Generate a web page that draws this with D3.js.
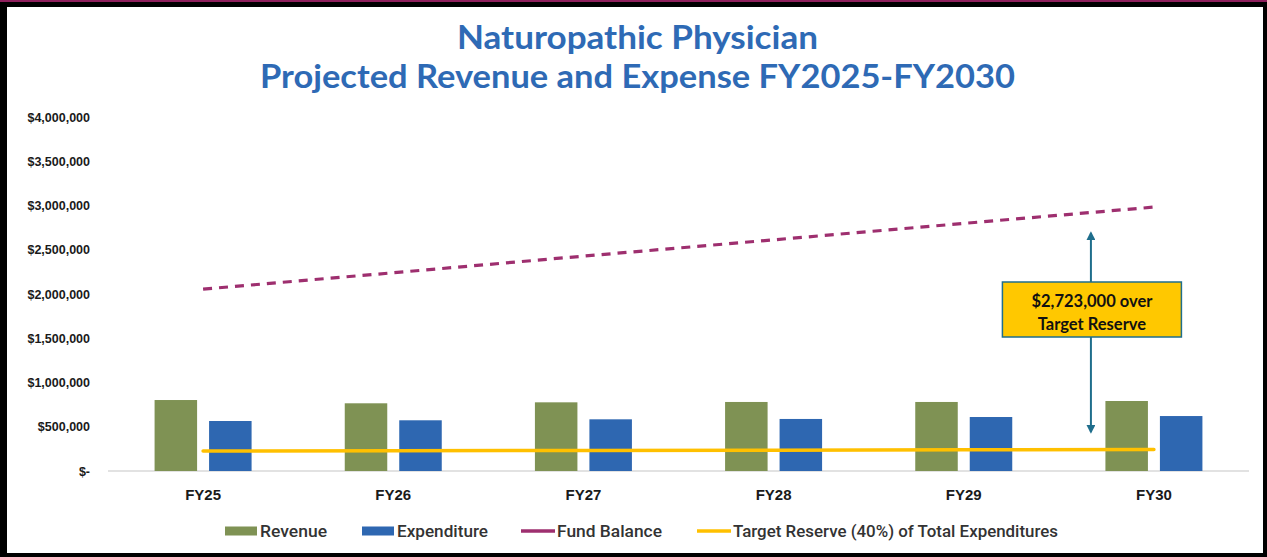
<!DOCTYPE html>
<html>
<head>
<meta charset="utf-8">
<script src="https://cdn.jsdelivr.net/npm/d3@7"></script>
<style>
  html, body { margin: 0; padding: 0; background: #000; }
  svg { display: block; }
</style>
</head>
<body>
<svg id="chart" width="1267" height="557"></svg>
<script>
/* ── Data ────────────────────────────────────────────────────────── */
const categories    = ["FY25", "FY26", "FY27", "FY28", "FY29", "FY30"];
const revenue       = [802000, 765000, 776000, 780000, 780000, 791000];
const expenditure   = [565000, 573000, 584000, 588000, 610000, 621000];
const fundBalance   = [2055000, 2240000, 2428000, 2612000, 2798000, 2982000];
const targetReserve = [226000, 229000, 232000, 235000, 240000, 244000];
const yTicks        = [0, 500000, 1000000, 1500000, 2000000, 2500000, 3000000, 3500000, 4000000];
const titleLines    = ["Naturopathic Physician", "Projected Revenue and Expense FY2025-FY2030"];
const noteLines     = ["$2,723,000 over", "Target Reserve"];
const noteRange     = [395000, 2735000];   /* arrow bottom / top, in dollars */
const legendLabels  = ["Revenue", "Expenditure", "Fund Balance", "Target Reserve (40%) of Total Expenditures"];

/* ── Colours ────────────────────────────────────────────────────── */
const C_REV    = "#7F9254";
const C_EXP    = "#2E67B1";
const C_FUND   = "#9E2F6F";
const C_TARGET = "#FFC000";
const C_NOTE   = "#1F6E8C";
const C_TITLE  = "#2E6AB5";

const svg = d3.select("#chart");

/* ── Frame: black border with a thin maroon rule on top ─────────── */
svg.append("rect").attr("width", 1267).attr("height", 557).attr("fill", "#000");
svg.append("rect").attr("width", 1267).attr("height", 2).attr("fill", "#8E1F5C");
svg.append("rect").attr("x", 7).attr("y", 7).attr("width", 1256).attr("height", 546).attr("fill", "#fff");

/* ── Title ──────────────────────────────────────────────────────── */
const titleLen = [361, 755];
svg.append("g").selectAll("text")
  .data(titleLines)
  .enter().append("text")
    .attr("x", 637.5)
    .attr("y", (d, i) => 49 + i * 39)
    .attr("text-anchor", "middle")
    .attr("textLength", (d, i) => titleLen[i])
    .attr("lengthAdjust", "spacingAndGlyphs")
    .style("font-family", "Lato, 'Open Sans', sans-serif")
    .style("font-weight", 700)
    .style("font-size", "33px")
    .attr("fill", C_TITLE)
    .text(d => d);

/* ── Scales ─────────────────────────────────────────────────────── */
const x = d3.scaleBand().domain(categories).range([108, 1249]);
const y = d3.scaleLinear().domain([0, 4000000]).range([471, 117]);
const xc = c => x(c) + x.bandwidth() / 2;

/* two bars per category, 42.5px wide with a 12px gap, centred on the band */
const sub = d3.scaleBand().domain(["rev", "exp"])
  .range([-48.5, 48.5]).paddingInner(0.22);

/* ── Y axis ─────────────────────────────────────────────────────── */
const yAxis = d3.axisLeft(y)
  .tickValues(yTicks)
  .tickSize(0)
  .tickPadding(0)
  .tickFormat(d => d === 0 ? "$-" : "$" + d3.format(",")(d));

const gy = svg.append("g").attr("transform", "translate(90,0)").call(yAxis);
gy.select(".domain").remove();
gy.selectAll("text")
  .style("font-family", "'Liberation Sans', Arial, sans-serif")
  .style("font-weight", 700)
  .style("font-size", "12.5px")
  .attr("fill", "#1a1a1a");

/* ── Baseline + X axis ──────────────────────────────────────────── */
svg.append("line")
  .attr("x1", 108).attr("x2", 1249)
  .attr("y1", y(0)).attr("y2", y(0))
  .attr("stroke", "#D9D9D9").attr("stroke-width", 1.5);

const gx = svg.append("g")
  .attr("transform", `translate(0,${y(0)})`)
  .call(d3.axisBottom(x).tickSize(0).tickPadding(18));
gx.select(".domain").remove();
gx.selectAll("text")
  .style("font-family", "'Liberation Sans', Arial, sans-serif")
  .style("font-weight", 700)
  .style("font-size", "15px")
  .attr("fill", "#1a1a1a");

/* ── Bars ───────────────────────────────────────────────────────── */
const bars = svg.append("g").attr("class", "bars");
bars.selectAll("rect.rev")
  .data(categories)
  .enter().append("rect")
    .attr("class", "rev")
    .attr("x", c => xc(c) + sub("rev"))
    .attr("width", sub.bandwidth())
    .attr("y", (c, i) => y(revenue[i]))
    .attr("height", (c, i) => y(0) - y(revenue[i]))
    .attr("fill", C_REV);

bars.selectAll("rect.exp")
  .data(categories)
  .enter().append("rect")
    .attr("class", "exp")
    .attr("x", c => xc(c) + sub("exp"))
    .attr("width", sub.bandwidth())
    .attr("y", (c, i) => y(expenditure[i]))
    .attr("height", (c, i) => y(0) - y(expenditure[i]))
    .attr("fill", C_EXP);

/* ── Lines ──────────────────────────────────────────────────────── */
const line = d3.line()
  .x((d, i) => xc(categories[i]))
  .y(d => y(d));

svg.append("path")
  .datum(targetReserve)
  .attr("d", line)
  .attr("fill", "none")
  .attr("stroke", C_TARGET)
  .attr("stroke-width", 3.5)
  .attr("stroke-linecap", "round");

svg.append("path")
  .datum(fundBalance)
  .attr("d", line)
  .attr("fill", "none")
  .attr("stroke", C_FUND)
  .attr("stroke-width", 3.2)
  .attr("stroke-dasharray", "9,7");

/* ── Annotation: double arrow + callout box ─────────────────────── */
const defs = svg.append("defs");
defs.append("marker")
  .attr("id", "arrow")
  .attr("viewBox", "0 0 10 10")
  .attr("refX", 8).attr("refY", 5)
  .attr("markerWidth", 4.5).attr("markerHeight", 4.5)
  .attr("orient", "auto-start-reverse")
  .append("path")
    .attr("d", "M0,0 L10,5 L0,10 z")
    .attr("fill", C_NOTE);

const noteX = xc("FY30") - 63;
svg.append("line")
  .attr("x1", noteX).attr("x2", noteX)
  .attr("y1", y(noteRange[0]) - 4).attr("y2", y(noteRange[1]) + 4)
  .attr("stroke", C_NOTE).attr("stroke-width", 2)
  .attr("marker-start", "url(#arrow)")
  .attr("marker-end", "url(#arrow)");

const boxW = 179, boxH = 55, boxY = 282;
svg.append("rect")
  .attr("x", noteX - boxW / 2 + 1).attr("y", boxY)
  .attr("width", boxW).attr("height", boxH)
  .attr("fill", "#FFC800")
  .attr("stroke", C_NOTE).attr("stroke-width", 1.5);

svg.append("g").selectAll("text")
  .data(noteLines)
  .enter().append("text")
    .attr("x", noteX + 1)
    .attr("y", (d, i) => boxY + 25 + i * 23)
    .attr("text-anchor", "middle")
    .style("font-family", "Lato, 'Open Sans', sans-serif")
    .style("font-weight", 700)
    .style("font-size", "16.5px")
    .attr("fill", "#111")
    .text(d => d);

/* ── Legend ─────────────────────────────────────────────────────── */
const legendX   = [225, 362, 521, 697];   /* swatch left edges */
const legendLen = [67, 91, 105, 325];     /* text widths */
const legendKind = ["rect", "rect", "line", "line"];
const legendColor = [C_REV, C_EXP, C_FUND, C_TARGET];
const legY = 531;

const leg = svg.append("g").attr("class", "legend")
  .selectAll("g")
  .data(legendLabels)
  .enter().append("g")
    .attr("transform", (d, i) => `translate(${legendX[i]},${legY})`);

leg.filter((d, i) => legendKind[i] === "rect")
  .append("rect")
    .attr("x", 0).attr("y", -4.5)
    .attr("width", 32).attr("height", 9)
    .attr("fill", (d) => legendColor[legendLabels.indexOf(d)]);

leg.filter((d, i) => legendKind[i] === "line")
  .append("line")
    .attr("x1", 0).attr("x2", 34)
    .attr("y1", 0).attr("y2", 0)
    .attr("stroke", (d) => legendColor[legendLabels.indexOf(d)])
    .attr("stroke-width", 3.5);

leg.append("text")
  .attr("x", (d, i) => legendKind[i] === "rect" ? 35 : 36)
  .attr("y", 5.5)
  .attr("textLength", (d, i) => legendLen[i])
  .attr("lengthAdjust", "spacingAndGlyphs")
  .style("font-family", "'Liberation Sans Narrow', 'Roboto', sans-serif")
  .style("font-size", "16px")
  .style("font-weight", 500)
  .attr("fill", "#333")
  .text(d => d);
</script>
</body>
</html>
